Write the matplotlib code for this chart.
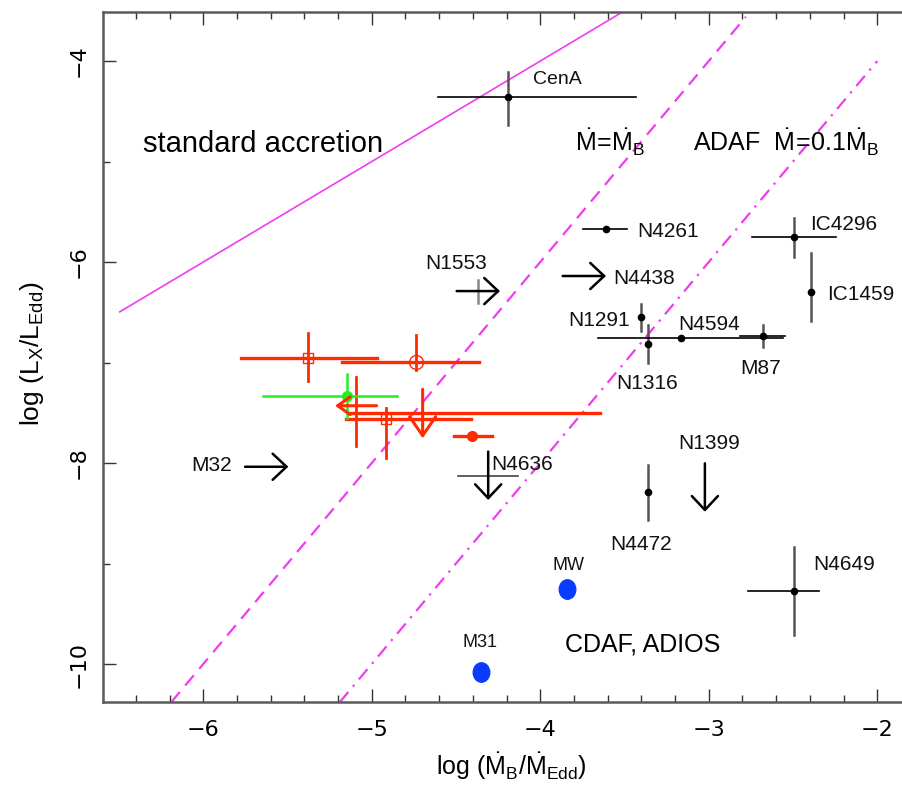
import numpy as np
import matplotlib
matplotlib.use("Agg")
import matplotlib.pyplot as plt
from matplotlib.ticker import MultipleLocator, FuncFormatter
from matplotlib.path import Path
from matplotlib.transforms import Affine2D

plt.rcParams['font.family'] = ['Liberation Sans', 'DejaVu Sans']
plt.rcParams['mathtext.fontset'] = 'custom'
plt.rcParams['mathtext.rm'] = 'Liberation Sans'
plt.rcParams['mathtext.it'] = 'Liberation Sans:italic'
plt.rcParams['mathtext.bf'] = 'Liberation Sans:bold'

# ---------------- data ----------------
# black sources: x, y, x-error range, y-error range (nan = none)
blk_names = ['CenA', 'N4261', 'IC4296', 'IC1459', 'N1291', 'N1316', 'N4594', 'M87', 'N4472', 'N4649']
blk_x   = [-4.192, -3.612, -2.493, -2.395, -3.404, -3.363, -3.165, -2.680, -3.363, -2.493]
blk_y   = [-4.358, -5.675, -5.754, -6.295, -6.550, -6.816, -6.760, -6.736, -8.285, -9.274]
blk_xlo = [-4.606, -3.745, -2.745, np.nan, np.nan, np.nan, -3.656, -2.815, np.nan, -2.766]
blk_xhi = [-3.433, -3.484, -2.245, np.nan, np.nan, np.nan, -2.558, -2.550, np.nan, -2.344]
blk_ylo = [-4.640, np.nan, -5.947, -6.584, -6.684, -7.000, np.nan, -6.843, -8.567, -9.711]
blk_yhi = [-4.110, np.nan, -5.565, -5.913, -6.418, -6.630, np.nan, -6.627, -8.020, -8.833]

# black limits (arrows): tail -> tip
arr_names = ['N1553', 'N4438', 'M32', 'N1399', 'N4636']
arr_x0 = [-4.496, -3.867, -5.752, -3.023, -4.309]
arr_y0 = [-6.289, -6.139, -8.037, -8.003, -7.886]
arr_x1 = [-4.239, -3.610, -5.495, -3.023, -4.309]
arr_y1 = [-6.289, -6.139, -8.037, -8.485, -8.368]
# extra error bars of limit sources
n1553_ex, n1553_ylo, n1553_yhi = -4.368, -6.410, -6.177
n4636_y, n4636_xlo, n4636_xhi = -8.126, -4.487, -4.131

# red sources
red_x   = [-5.377, -4.738, -5.096, -4.915, -4.407]
red_y   = [-6.958, -6.992, -7.506, -7.565, -7.731]
red_xlo = [-5.778, -5.179, -5.130, -5.153, -4.510]
red_xhi = [-4.971, -4.362, -3.645, -4.413, -4.288]
red_ylo = [-7.180, -7.075, -7.831, -7.953, np.nan]
red_yhi = [-6.710, -6.726, -7.147, -7.456, np.nan]
red_mark = ['s', 'o', None, 's', 'o']
red_fill = [False, False, False, False, True]
# red limits
redarr_x0 = [-4.971, -4.698]
redarr_y0 = [-7.430, -7.267]
redarr_x1 = [-5.218, -4.698]
redarr_y1 = [-7.430, -7.754]

# green source
grn_x, grn_y = -5.149, -7.330
grn_xlo, grn_xhi = -5.647, -4.848
grn_ylo, grn_yhi = -7.550, -7.114

# blue sources
blue_names = ['MW', 'M31']
blue_x = [-3.843, -4.352]
blue_y = [-9.257, -10.080]

# model lines
solid_x = [-6.50, -3.50]
solid_y = [-6.50, -3.50]
dash_x = [-6.19, -2.78]
dash_y = [-10.38, -3.56]
dashdot_x = [-5.19, -2.00]
dashdot_y = [-10.38, -4.00]

# label positions (x, baseline y, ha, size)
lab_pos = {
    'CenA': (-4.043, -4.229, 'left', 14),
    'N4261': (-3.426, -5.746, 'left', 15),
    'IC4296': (-2.399, -5.684, 'left', 15),
    'N4438': (-3.569, -6.214, 'left', 15),
    'N1553': (-4.684, -6.070, 'left', 15),
    'N1291': (-3.468, -6.632, 'right', 15),
    'N4594': (-3.183, -6.679, 'left', 15),
    'N1316': (-3.550, -7.266, 'left', 15),
    'M87': (-2.815, -7.117, 'left', 15),
    'IC1459': (-2.300, -6.380, 'left', 15),
    'M32': (-5.829, -8.075, 'right', 15),
    'N4636': (-4.288, -8.071, 'left', 15),
    'N1399': (-3.183, -7.863, 'left', 15),
    'N4472': (-3.587, -8.868, 'left', 15),
    'N4649': (-2.381, -9.067, 'left', 15),
    'MW': (-3.925, -9.063, 'left', 13),
    'M31': (-4.459, -9.826, 'left', 13),
}

# ---------------- figure ----------------
W, H = 903, 786
fig = plt.figure(figsize=(W / 100, H / 100), dpi=100)
ax = fig.add_axes([103 / W, (H - 702) / H, (915 - 103) / W, (702 - 11.5) / H])
ax.set_xlim(-6.595, -1.776)
ax.set_ylim(-10.378, -3.507)

mag = '#f03cf0'
ax.plot(solid_x, solid_y, color=mag, lw=1.2, solid_capstyle='butt')
ax.plot(dash_x, dash_y, color=mag, lw=1.6, dashes=(6, 3.8))
ax.plot(dashdot_x, dashdot_y, color=mag, lw=1.6, dashes=(6, 3.2, 1.0, 3.2))

# black error bars
for i in range(len(blk_x)):
    if not np.isnan(blk_xlo[i]):
        ax.plot([blk_xlo[i], blk_xhi[i]], [blk_y[i], blk_y[i]], color='k', lw=1.2)
    if not np.isnan(blk_ylo[i]):
        ax.plot([blk_x[i], blk_x[i]], [blk_ylo[i], blk_yhi[i]], color='#555555', lw=1.8)
ax.plot(blk_x, blk_y, 'o', color='k', ms=4.5, ls='none')

ax.plot([n1553_ex, n1553_ex], [n1553_ylo, n1553_yhi], color='#888888', lw=1.8)
ax.plot([n4636_xlo, n4636_xhi], [n4636_y, n4636_y], color='#444444', lw=1.2)

for i in range(len(arr_x0)):
    ax.annotate('', xy=(arr_x1[i], arr_y1[i]), xytext=(arr_x0[i], arr_y0[i]),
                arrowprops=dict(arrowstyle='->,head_length=0.5,head_width=0.47',
                                color='k', lw=1.8, mutation_scale=20,
                                shrinkA=0, shrinkB=0))

# red
red = '#ff2a00'
for i in range(len(red_x)):
    ax.plot([red_xlo[i], red_xhi[i]], [red_y[i], red_y[i]], color=red, lw=2.4)
    if not np.isnan(red_ylo[i]):
        ax.plot([red_x[i], red_x[i]], [red_ylo[i], red_yhi[i]], color=red, lw=2.0)
    if red_mark[i] is not None:
        if red_fill[i]:
            ms = 7
        elif red_mark[i] == 's':
            ms = 7.5
        else:
            ms = 10
        ax.plot(red_x[i], red_y[i], red_mark[i], ms=ms,
                mfc=red if red_fill[i] else 'none', mec=red, mew=1.0)
ax.annotate('', xy=(redarr_x1[0], redarr_y1[0]), xytext=(redarr_x0[0], redarr_y0[0]),
            arrowprops=dict(arrowstyle='->,head_length=0.45,head_width=0.32',
                            color=red, lw=2.2, mutation_scale=20, shrinkA=0, shrinkB=0))
ax.annotate('', xy=(redarr_x1[1], redarr_y1[1]), xytext=(redarr_x0[1], redarr_y0[1]),
            arrowprops=dict(arrowstyle='->,head_length=0.68,head_width=0.47',
                            color=red, lw=2.2, mutation_scale=20, shrinkA=0, shrinkB=0))

# green
grn = '#22ee22'
ax.plot([grn_xlo, grn_xhi], [grn_y, grn_y], color=grn, lw=1.8)
ax.plot([grn_x, grn_x], [grn_ylo, grn_yhi], color=grn, lw=1.8)
ax.plot(grn_x, grn_y, 'o', color=grn, ms=7)

# blue (slightly tall ellipses)
ell = Path.unit_circle().transformed(Affine2D().scale(0.85, 1.0))
ax.plot(blue_x, blue_y, ls='none', marker=ell, ms=14, color='#0a3cff')

# labels
for name, (lx, ly, ha, fs) in lab_pos.items():
    ax.text(lx, ly, name, ha=ha, va='baseline', fontsize=fs, color='#111111')

ax.text(-6.357, -4.905, 'standard accretion', fontsize=21, va='baseline', ha='left')
ax.text(-3.794, -4.905, r'$\dot{\mathrm{M}}\!=\!\dot{\mathrm{M}}_\mathrm{B}$', fontsize=18,
        va='baseline', ha='left')
ax.text(-3.095, -4.905, r'ADAF  $\dot{\mathrm{M}}\!=\!0.1\dot{\mathrm{M}}_\mathrm{B}$', fontsize=18,
        va='baseline', ha='left')
ax.text(-3.853, -9.877, 'CDAF, ADIOS', fontsize=18, va='baseline', ha='left')

# axes styling
for s in ax.spines.values():
    s.set_color('#5a5a5a')
    s.set_linewidth(1.8)
ax.xaxis.set_major_locator(MultipleLocator(1))
ax.xaxis.set_minor_locator(MultipleLocator(0.2))
ax.yaxis.set_major_locator(MultipleLocator(2))
ax.yaxis.set_minor_locator(MultipleLocator(1))
fmt = FuncFormatter(lambda v, p: '\u2212%d' % abs(round(v)) if v < 0 else '%d' % round(v))
ax.xaxis.set_major_formatter(fmt)
ax.yaxis.set_major_formatter(fmt)
ax.tick_params(which='both', direction='in', top=True, right=True, color='#333333')
ax.tick_params(which='major', length=9.4, width=1.0)
ax.tick_params(which='minor', length=4.7, width=1.0)
ax.tick_params(axis='x', which='major', labelsize=16, pad=13)
ax.tick_params(axis='y', which='major', labelsize=16, pad=10)
for lab in ax.get_xticklabels():
    lab.set_family(['DejaVu Sans'])
for lab in ax.get_yticklabels():
    lab.set_family(['DejaVu Sans'])
    lab.set_rotation(90)
    lab.set_va('center')

fig.text(511 / W, 1 - 766 / H,
         r'log ($\dot{\mathrm{M}}_\mathrm{B}/\dot{\mathrm{M}}_\mathrm{Edd}$)',
         ha='center', va='center', fontsize=18)
fig.text(32 / W, 1 - 354 / H,
         r'log (L$_\mathrm{X}$/L$_\mathrm{Edd}$)',
         ha='center', va='center', fontsize=19, rotation=90)

fig.savefig('out.png', dpi=100)
